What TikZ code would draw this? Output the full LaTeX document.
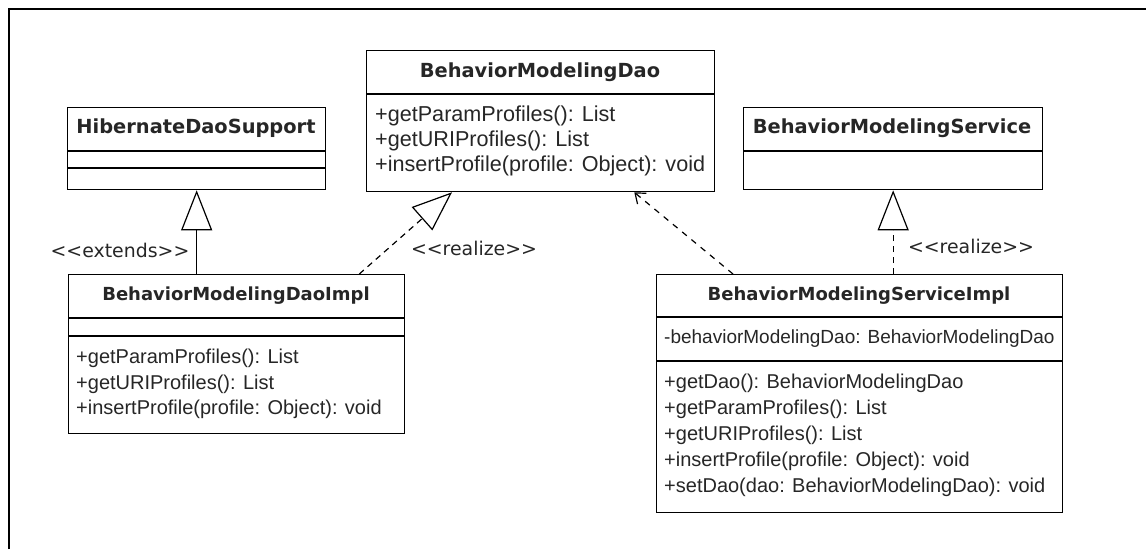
\documentclass[tikz,border=0pt]{standalone}
\usepackage{fontspec}
\newfontfamily\umlfont{DejaVu Sans}
\newfontfamily\opfont{Liberation Sans}
\usetikzlibrary{arrows.meta}

\tikzstyle{classbox}=[draw, line width=1.3pt, anchor=north west, inner sep=0pt]
\tikzstyle{classname}=[font=\umlfont\bfseries\fontsize{19.4pt}{25pt}\selectfont, inner sep=0pt, text=black!85]
\tikzstyle{smallname}=[classname, font=\umlfont\bfseries\fontsize{18pt}{25pt}\selectfont]
\tikzstyle{member}=[font=\opfont\fontsize{20pt}{25pt}\selectfont, anchor=west, inner sep=0pt, text=black!85]
\tikzstyle{widemember}=[member, font=\opfont\fontsize{21.6pt}{25pt}\selectfont]
\tikzstyle{narrowmember}=[member, font=\opfont\fontsize{19pt}{25pt}\selectfont]
\tikzstyle{stereo}=[font=\umlfont\fontsize{18.9pt}{25pt}\selectfont, inner sep=0pt, text=black!85]
\tikzstyle{sep}=[line width=1.3pt]
\tikzstyle{inherit}=[-{Triangle[open, length=40pt, width=31pt]}, line width=1.2pt]
\tikzstyle{realize}=[inherit, dash pattern=on 6pt off 5pt]
\tikzstyle{uses}=[-{Straight Barb[length=9pt, width=14pt]}, line width=1.2pt, dash pattern=on 6pt off 6pt]

\begin{document}
\begin{tikzpicture}[x=1pt, y=-1pt]
  \useasboundingbox (0,0) rectangle (1146,549);
  \draw[line width=1.3pt] (9,549) -- (9,9) -- (1146,9);

  % interfaces and base class
  \node[classbox, minimum width=258pt, minimum height=82pt] (hds) at (67,107) {};
  \node[classname] (hdsname) at (196,128) {HibernateDaoSupport};
  \draw[sep] (67,151) -- (325,151);
  \draw[sep] (67,168) -- (325,168);

  \node[classbox, minimum width=348pt, minimum height=141pt] (dao) at (366,50) {};
  \node[classname] (daoname) at (540,72) {BehaviorModelingDao};
  \draw[sep] (366,94) -- (714,94);
  \foreach \m [count=\i] in {+getParamProfiles(): List, +getURIProfiles(): List, +insertProfile(profile: Object): void} {%
    \node[widemember] (daoop\i) at (375, 91+25*\i) {\m};
  }

  \node[classbox, minimum width=299pt, minimum height=82pt] (service) at (743,107) {};
  \node[classname] (servicename) at (892,128) {BehaviorModelingService};
  \draw[sep] (743,151) -- (1042,151);

  % implementations
  \node[classbox, minimum width=336pt, minimum height=159pt] (daoimpl) at (68,274) {};
  \node[smallname] (daoimplname) at (236,296) {BehaviorModelingDaoImpl};
  \draw[sep] (68,318) -- (404,318);
  \draw[sep] (68,336) -- (404,336);
  \foreach \m [count=\i] in {+getParamProfiles(): List, +getURIProfiles(): List, +insertProfile(profile: Object): void} {%
    \node[member] (daoimplop\i) at (76, 333+25.5*\i) {\m};
  }

  \node[classbox, minimum width=406pt, minimum height=238pt] (serviceimpl) at (656,274) {};
  \node[smallname] (serviceimplname) at (859,296) {BehaviorModelingServiceImpl};
  \draw[sep] (656,317) -- (1062,317);
  \node[narrowmember] (serviceimplattr) at (664,339) {-behaviorModelingDao: BehaviorModelingDao};
  \draw[sep] (656,361) -- (1062,361);
  \foreach \m [count=\i] in {+getDao(): BehaviorModelingDao, +getParamProfiles(): List, +getURIProfiles(): List, +insertProfile(profile: Object): void, +setDao(dao: BehaviorModelingDao): void} {%
    \node[member] (serviceimplop\i) at (664, 357+26*\i) {\m};
  }

  % relations
  \draw[inherit] (daoimpl.north -| hds.south) -- (hds.south);
  \node[stereo] (extendslbl) at (120,250) {<<extends>>};

  \draw[realize] ([xshift=-46pt]daoimpl.north east) -- ([xshift=86pt]dao.south west);
  \node[stereo] (realizelbl1) at (474,248) {<<realize>>};

  \draw[uses] ([xshift=77pt]serviceimpl.north west) -- ([xshift=-81pt]dao.south east);

  \draw[realize] (serviceimpl.north -| service.south) -- (service.south);
  \node[stereo] (realizelbl2) at (971,246) {<<realize>>};
\end{tikzpicture}
\end{document}
